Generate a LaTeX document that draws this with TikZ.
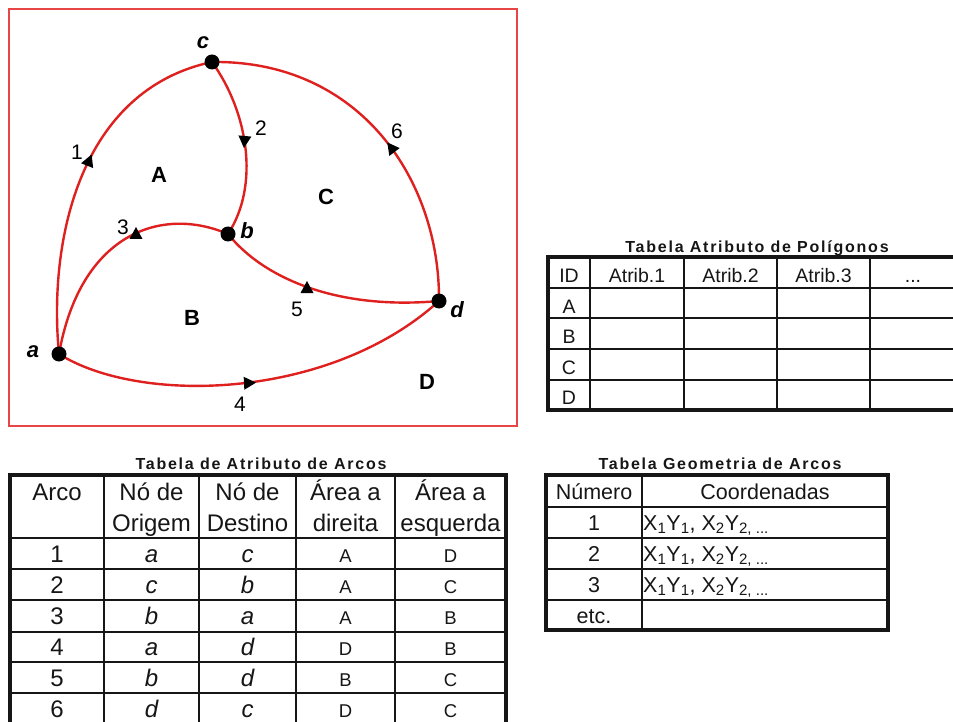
\documentclass[tikz,border=0pt]{standalone}
\usepackage{fontspec}
\setmainfont{Liberation Sans}
\usetikzlibrary{backgrounds}
\definecolor{arcred}{RGB}{222,32,30}
\definecolor{framered}{RGB}{232,70,70}
\definecolor{ink}{RGB}{22,22,22}
\newcommand{\fsz}[1]{\fontsize{#1}{#1}\selectfont}
\tikzset{
  vtx/.style={circle, fill=black, inner sep=0pt, minimum size=15pt},
  arcline/.style={draw=arcred, line width=2.4pt},
  vlab/.style={font=\fsz{22}\bfseries\itshape, inner sep=0pt},
  rlab/.style={font=\fsz{22}\bfseries, inner sep=0pt},
  nlab/.style={font=\fsz{21}, inner sep=0pt},
  trimark/.style={fill=black},
  ttl/.style={font=\fsz{16}\bfseries\addfontfeature{LetterSpace=11}, text=ink, inner sep=0pt, anchor=base},
  tthick/.style={draw=ink, line width=4pt},
  tthin/.style={draw=ink, line width=2.4pt},
  ptxt/.style={font=\fsz{19.5}, text=ink, inner sep=0pt, anchor=base},
  atxt/.style={font=\fsz{24}, text=ink, inner sep=0pt, anchor=base},
  aital/.style={font=\fsz{24}\itshape, text=ink, inner sep=0pt, anchor=base},
  asmall/.style={font=\fsz{18.5}, text=ink, inner sep=0pt, anchor=base},
  gtxt/.style={font=\fsz{21.5}, text=ink, inner sep=0pt, anchor=base},
}
\newcommand{\triat}[3]{\fill[trimark, shift={(#1,#2)}, rotate=#3] (7,0) -- (-5,6.5) -- (-5,-6.5) -- cycle;}
\begin{document}
\begin{tikzpicture}[x=1pt,y=1pt]
\useasboundingbox (0,0) rectangle (953,-722);
\clip (0,0) rectangle (953,-722);

% ---------- diagram ----------
\draw[framered, line width=1.1pt] (9,-9) rectangle (517,-426);

\node[vtx] (a) at (59,-354) {};
\node[vtx] (b) at (228,-234) {};
\node[vtx] (c) at (212,-62) {};
\node[vtx] (d) at (439,-301) {};

\begin{scope}[on background layer]
\draw[arcline] (a.center) .. controls (48,-240) and (80,-90) .. (c.center);
\draw[arcline] (c.center) .. controls (248,-112) and (260,-185) .. (b.center);
\draw[arcline] (b.center) .. controls (160,-205) and (80,-235) .. (a.center);
\draw[arcline] (a.center) .. controls (140,-405) and (330,-400) .. (d.center);
\draw[arcline] (b.center) .. controls (265,-280) and (340,-310) .. (d.center);
\draw[arcline] (d.center) .. controls (440,-180) and (360,-60) .. (c.center);
\end{scope}

\triat{89}{-161}{68}
\triat{244.5}{-141}{-95}
\triat{136}{-234}{90}
\triat{249}{-383}{3}
\triat{307}{-288}{90}
\triat{391.5}{-148}{127}

\node[vlab] (lc) at (203,-43) {c};
\node[vlab] (lb) at (247,-231) {b};
\node[vlab] (la) at (33,-352) {a};
\node[vlab] (ld) at (457,-310) {d};

\node[rlab] (rA) at (159,-175) {A};
\node[rlab] (rC) at (326,-197) {C};
\node[rlab] (rB) at (192,-318) {B};
\node[rlab] (rD) at (427,-382) {D};

\node[nlab] (n1) at (77,-152) {1};
\node[nlab] (n2) at (261,-128) {2};
\node[nlab] (n3) at (123,-227) {3};
\node[nlab] (n4) at (240,-404) {4};
\node[nlab] (n5) at (297,-309) {5};
\node[nlab] (n6) at (397,-131) {6};

% ---------- polygon attribute table ----------
\node[ttl] (tpol) at (757,-252) {Tabela Atributo de Polígonos};
\foreach \yy in {288,318,349,380} \draw[tthin] (548,-\yy) -- (975,-\yy);
\foreach \xx in {590,684,777,870} \draw[tthin] (\xx,-257) -- (\xx,-410);
\draw[tthick] (548,-257) rectangle (975,-410);
\node[ptxt] (p00) at (569,-282) {ID};
\node[ptxt] (p01) at (637,-282) {Atrib.1};
\node[ptxt] (p02) at (730.5,-282) {Atrib.2};
\node[ptxt] (p03) at (823.5,-282) {Atrib.3};
\node[ptxt] (p04) at (913,-282) {...};
\node[ptxt] (p10) at (569,-313) {A};
\node[ptxt] (p20) at (569,-343.5) {B};
\node[ptxt] (p30) at (569,-374) {C};
\node[ptxt] (p40) at (569,-404.5) {D};

% ---------- arc attribute table ----------
\node[ttl] (tarc) at (261,-469) {Tabela de Atributo de Arcos};
\foreach \yy in {538,569,600,632,662,693} \draw[tthin] (10,-\yy) -- (506,-\yy);
\foreach \xx in {104,199,296,395} \draw[tthin] (\xx,-475) -- (\xx,-730);
\draw[tthick] (10,-475) rectangle (506,-730);
\node[atxt] (h1a) at (57,-500) {Arco};
\node[atxt] (h2a) at (151.5,-500) {Nó de};
\node[atxt] (h2b) at (151.5,-531) {Origem};
\node[atxt] (h3a) at (247.5,-500) {Nó de};
\node[atxt] (h3b) at (247.5,-531) {Destino};
\node[atxt] (h4a) at (345.5,-500) {Área a};
\node[atxt] (h4b) at (345.5,-531) {direita};
\node[atxt] (h5a) at (450.5,-500) {Área a};
\node[atxt] (h5b) at (450.5,-531) {esquerda};
\foreach \n/\o/\dd/\r/\l/\yy in {1/a/c/A/D/562, 2/c/b/A/C/593, 3/b/a/A/B/624, 4/a/d/D/B/655, 5/b/d/B/C/686, 6/d/c/D/C/717}{
  \node[atxt] (r\n c1) at (57,-\yy) {\n};
  \node[aital] (r\n c2) at (151.5,-\yy) {\o};
  \node[aital] (r\n c3) at (247.5,-\yy) {\dd};
  \node[asmall] (r\n c4) at (345.5,-\yy) {\r};
  \node[asmall] (r\n c5) at (450.5,-\yy) {\l};
}

% ---------- geometry table ----------
\node[ttl] (tgeo) at (720,-469) {Tabela Geometria de Arcos};
\foreach \yy in {507,538,569,600} \draw[tthin] (546,-\yy) -- (888,-\yy);
\draw[tthin] (642,-475) -- (642,-630);
\draw[tthick] (546,-475) rectangle (888,-630);
\node[gtxt] (g0a) at (594,-499) {Número};
\node[gtxt] (g0b) at (765,-499) {Coordenadas};
\node[gtxt] (g1a) at (594,-530.5) {1};
\node[gtxt] (g2a) at (594,-561.5) {2};
\node[gtxt] (g3a) at (594,-592.5) {3};
\node[gtxt] (g4a) at (594,-623) {etc.};
\foreach \k/\yy in {1/530.5,2/561.5,3/592.5}{
  \node[gtxt, anchor=base west] (g\k b) at (643,-\yy) {X\textsubscript{1}Y\textsubscript{1}, X\textsubscript{2}Y\textsubscript{2, ...}};
}
\end{tikzpicture}
\end{document}
